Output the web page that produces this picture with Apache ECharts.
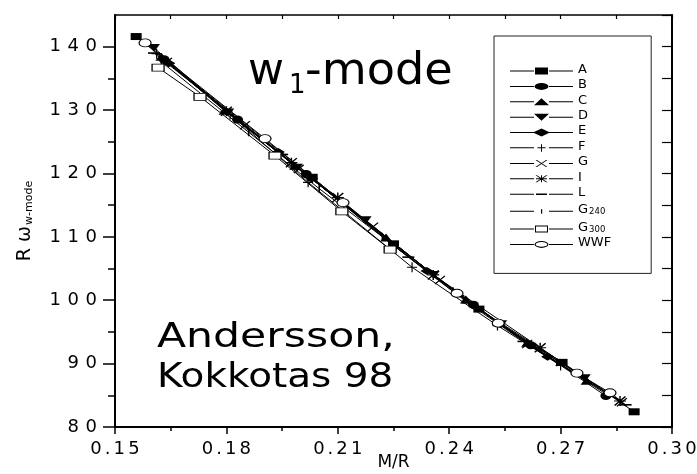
<!DOCTYPE html>
<html>
<head>
<meta charset="utf-8">
<script src="https://cdn.jsdelivr.net/npm/echarts@6.0.0/dist/echarts.min.js"></script>
<style>
  html, body { margin: 0; padding: 0; background: #fff; }
  #chart { width: 697px; height: 474px; }
</style>
</head>
<body>
<div id="chart"></div>
<script>
// ---------------- data (M/R, R*omega) ----------------
const seriesNames = ['A', 'B', 'C', 'D', 'E', 'F', 'G', 'I', 'L', 'G240', 'G300', 'WWF'];

const dataA = [[0.1557, 141.6], [0.2031, 119.4], [0.2250, 108.9], [0.2480, 98.6], [0.2704, 90.2], [0.2898, 82.4]];
const dataB = [[0.1632, 138.0], [0.1830, 128.5], [0.2015, 119.9], [0.2250, 108.6], [0.2465, 99.3], [0.2620, 92.9], [0.2822, 84.9]];
const dataC = [[0.1625, 138.4], [0.1795, 129.9], [0.1985, 121.2], [0.2230, 109.9], [0.2445, 100.1], [0.2610, 93.3], [0.2770, 87.3]];
const dataD = [[0.1605, 139.8], [0.1805, 129.6], [0.1990, 120.9], [0.2175, 112.6], [0.2358, 104.0], [0.2540, 96.2], [0.2765, 87.7]];
const dataE = [[0.1645, 137.4], [0.1940, 123.4], [0.2030, 119.2], [0.2340, 104.6], [0.2535, 96.3], [0.2665, 91.1], [0.2825, 85.1]];
const dataF = [[0.1612, 138.9], [0.1810, 129.3], [0.2020, 118.6], [0.2300, 105.2], [0.2530, 96.0], [0.2700, 89.7]];
const dataG = [[0.1640, 137.6], [0.1850, 127.6], [0.1995, 120.7], [0.2195, 111.6], [0.2375, 103.2], [0.2610, 93.1], [0.2865, 83.9]];
const dataI = [[0.1800, 129.8], [0.1975, 121.7], [0.2100, 116.2], [0.2357, 104.0], [0.2645, 92.5], [0.2860, 84.1]];
const dataL = [[0.1605, 139.0], [0.1950, 123.0], [0.2290, 106.8], [0.2450, 99.6], [0.2600, 93.5], [0.2875, 83.5]];
const dataG240 = [[0.1625, 137.6], [0.1860, 126.5], [0.2050, 117.6], [0.2220, 110.0], [0.2410, 101.4], [0.2690, 90.2]];
const dataG300 = [[0.1616, 136.7], [0.1729, 132.1], [0.1931, 122.8], [0.2111, 114.0], [0.2241, 108.0]];
const dataWWF = [[0.1581, 140.6], [0.1904, 125.5], [0.2114, 115.4], [0.2421, 101.1], [0.2532, 96.4], [0.2744, 88.5], [0.2833, 85.4]];

const yTickValues = [80, 90, 100, 110, 120, 130, 140];
const yMinorTickValues = [85, 95, 105, 115, 125, 135];
const xTickLabels = ['0.15', '0.18', '0.21', '0.24', '0.27', '0.30'];

const allData = [dataA, dataB, dataC, dataD, dataE, dataF, dataG, dataI, dataL, dataG240, dataG300, dataWWF];

// ---------------- styling ----------------
const FONT = 'DejaVu Sans';
const INK = '#000';

const plusPath = 'path://M4.4,0h1.2v4.4h4.4v1.2h-4.4v4.4h-1.2v-4.4h-4.4v-1.2h4.4z';
const crossPath = 'path://M0,0.9L0.9,0L10,9.1L9.1,10z M9.1,0L10,0.9L0.9,10L0,9.1z';
const starPath = 'path://M4.4,0h1.2v4.4h4.4v1.2h-4.4v4.4h-1.2v-4.4h-4.4v-1.2h4.4z M0,0.9L0.9,0L10,9.1L9.1,10z M9.1,0L10,0.9L0.9,10L0,9.1z';
const dashPath = 'path://M0,0h10v2h-10z';
const barPath = 'path://M0,0h2v10h-2z';
const triDownPath = 'path://M0,0L10,0L5,10z';

const symbolCfg = {
  A: { symbol: 'rect', size: [11, 7], fill: INK },
  B: { symbol: 'circle', size: [11, 8], fill: INK },
  C: { symbol: 'triangle', size: [12, 8], fill: INK },
  D: { symbol: triDownPath, size: [12, 8], fill: INK },
  E: { symbol: 'diamond', size: [13, 8], fill: INK },
  F: { symbol: plusPath, size: [10, 10], fill: INK },
  G: { symbol: crossPath, size: [11, 9], fill: INK },
  I: { symbol: starPath, size: [12, 10], fill: INK },
  L: { symbol: dashPath, size: [12, 1.6], fill: INK },
  G240: { symbol: barPath, size: [1.6, 8], fill: INK },
  G300: { symbol: 'rect', size: [12, 7], fill: '#fff', border: 1 },
  WWF: { symbol: 'circle', size: [12, 8], fill: '#fff', border: 1 }
};

// legend icons: 63 x 10 box, line with symbol in the middle
const LL = 'M0,4.5h24v1h-24z M39,4.5h24v1h-24z';
const legendIcons = {
  A: 'path://' + LL + ' M25,1.5h13v7h-13z',
  B: 'path://' + LL + ' M24.5,5a7,3.5 0 1,1 14,0a7,3.5 0 1,1 -14,0z',
  C: 'path://' + LL + ' M31.5,1.5L39,8.5L24,8.5z',
  D: 'path://' + LL + ' M24,1.5L39,1.5L31.5,8.5z',
  E: 'path://' + LL + ' M31.5,1L40,5L31.5,9L23,5z',
  F: 'path://' + LL + ' M31,1.5h1v3h3.5v1h-3.5v3.5h-1v-3.5h-3.5v-1h3.5z',
  G: 'path://' + LL + ' M25.5,1.5L27,1.5L37.5,8.5L36,8.5z M36,1.5L37.5,1.5L27,8.5L25.5,8.5z',
  I: 'path://' + LL + ' M25.5,1.5L27,1.5L37.5,8.5L36,8.5z M36,1.5L37.5,1.5L27,8.5L25.5,8.5z M31,1.5h1v3h5v1h-5v3h-1v-3h-5v-1h5z',
  L: 'path://' + LL + ' M26,4.2h11v1.6h-11z',
  G240: 'path://' + LL + ' M31,3h1.2v4.5h-1.2z',
  G300: 'path://' + LL + ' M25,1.5h13v7h-13z M26,2.5v5h11v-5z',
  WWF: 'path://' + LL + ' M24.5,5a7,3.5 0 1,1 14,0a7,3.5 0 1,1 -14,0z M25.7,5a5.8,2.4 0 1,0 11.6,0a5.8,2.4 0 1,0 -11.6,0z'
};

// wide-spaced tick labels (each character its own rich token with padding)
function spaced(str) {
  return str.split('').map(c => (c === '.' ? '{p|.}' : '{d|' + c + '}')).join('');
}

const series = seriesNames.map((name, i) => {
  const cfg = symbolCfg[name];
  return {
    name: name,
    type: 'line',
    data: allData[i],
    xAxisIndex: 0,
    yAxisIndex: 0,
    symbol: cfg.symbol,
    symbolSize: cfg.size,
    showSymbol: true,
    showAllSymbol: true,
    smooth: false,
    lineStyle: { color: INK, width: 1 },
    itemStyle: {
      color: cfg.fill,
      borderColor: INK,
      borderWidth: cfg.border || 0
    },
    emphasis: { disabled: true },
    z: 2 + i * 0.01
  };
});

const chart = echarts.init(document.getElementById('chart'), null, { renderer: 'canvas' });

const option = {
  animation: false,
  backgroundColor: '#fff',
  grid: { left: 115, right: 25, top: 15, bottom: 47, containLabel: false, outerBoundsMode: 'none' },
  xAxis: [
    {
      type: 'value', position: 'bottom',
      min: 0.15, max: 0.30, interval: 0.03,
      name: 'M/R', nameLocation: 'middle', nameGap: 27, nameMoveOverlap: false,
      nameTextStyle: { fontFamily: FONT, fontSize: 17, color: INK },
      axisLine: { show: true, onZero: false, lineStyle: { color: INK, width: 2 } },
      axisTick: { show: true, inside: false, length: 7, lineStyle: { color: INK, width: 1.5 } },
      minorTick: { show: true, splitNumber: 2, length: 4, lineStyle: { color: INK, width: 1.5 } },
      splitLine: { show: false },
      minorSplitLine: { show: false },
      axisLabel: {
        show: true, margin: 13, color: INK,
        formatter: v => spaced(xTickLabels[Math.round((v - 0.15) / 0.03)] || v.toFixed(2)),
        rich: {
          d: { fontFamily: FONT, fontSize: 18, color: INK, padding: [0, 1.6, 0, 1.6] },
          p: { fontFamily: FONT, fontSize: 18, color: INK, padding: [0, 1.4, 0, 1.4] }
        }
      }
    },
    {
      type: 'value', position: 'top',
      min: 0.15, max: 0.30, interval: 0.015,
      axisLine: { show: true, onZero: false, lineStyle: { color: INK, width: 1.5 } },
      axisTick: { show: true, inside: true, length: 4, lineStyle: { color: INK, width: 1.2 } },
      axisLabel: { show: false },
      splitLine: { show: false }
    }
  ],
  yAxis: [
    {
      type: 'value', position: 'left',
      min: 80, max: 145, interval: 10,
      name: '{r|R ω}{s|w-mode}', nameLocation: 'middle', nameGap: 80, nameMoveOverlap: false,
      nameTextStyle: {
        color: INK,
        rich: {
          r: { fontFamily: FONT, fontSize: 19, color: INK, lineHeight: 24, verticalAlign: 'bottom' },
          s: { fontFamily: FONT, fontSize: 11, color: INK, lineHeight: 24, verticalAlign: 'bottom', padding: [12, 0, 0, 1] }
        }
      },
      axisLine: { show: true, onZero: false, lineStyle: { color: INK, width: 2 } },
      axisTick: { show: true, inside: false, length: 12, customValues: yTickValues, lineStyle: { color: INK, width: 1.5 } },
      splitLine: { show: false },
      axisLabel: {
        show: true, margin: 14.7, color: INK,
        customValues: yTickValues,
        formatter: v => spaced(String(v)),
        rich: {
          d: { fontFamily: FONT, fontSize: 18, color: INK, padding: [0, 3.3, 0, 3.3] },
          p: { fontFamily: FONT, fontSize: 18, color: INK, padding: [0, 1.2, 0, 1.2] }
        }
      }
    },
    {
      type: 'value', position: 'right',
      min: 80, max: 145, interval: 5,
      axisLine: { show: true, onZero: false, lineStyle: { color: INK, width: 2 } },
      axisTick: { show: true, inside: true, length: 10, lineStyle: { color: INK, width: 1.2 } },
      axisLabel: { show: false },
      splitLine: { show: false }
    },
    {
      type: 'value', position: 'left',
      min: 80, max: 145, interval: 5,
      axisLine: { show: false },
      axisTick: { show: true, inside: false, length: 7, customValues: yMinorTickValues, lineStyle: { color: INK, width: 1.5 } },
      axisLabel: { show: false },
      splitLine: { show: false }
    }
  ],
  legend: {
    orient: 'vertical',
    left: 494, top: 36,
    padding: [27, 40, 24, 16],
    itemWidth: 63, itemHeight: 10, itemGap: 2.4,
    borderColor: '#222', borderWidth: 1,
    backgroundColor: '#fff',
    selectedMode: false,
    symbolKeepAspect: true,
    itemStyle: { color: INK, borderWidth: 0 },
    data: seriesNames.map(n => ({ name: n, icon: legendIcons[n] })),
    formatter: function (name) {
      const m = name.match(/^G(\d+)$/);
      if (m) return '{n|G}{s|' + m[1] + '}';
      return '{n|' + name + '}';
    },
    textStyle: {
      color: INK, fontFamily: FONT, fontSize: 13, lineHeight: 10,
      rich: {
        n: { fontFamily: FONT, fontSize: 13, color: INK, lineHeight: 10, verticalAlign: 'bottom' },
        s: { fontFamily: FONT, fontSize: 8.5, color: INK, lineHeight: 10, verticalAlign: 'bottom', padding: [6, 0, 0, 1] }
      }
    }
  },
  graphic: [
    { type: 'text', x: 248, y: 73, style: { text: 'w', x: 0, y: 0, font: '44px "DejaVu Sans"', fill: INK, textVerticalAlign: 'middle' } },
    { type: 'text', x: 289, y: 86, style: { text: '1', x: 0, y: 0, font: '26px "DejaVu Sans"', fill: INK, textVerticalAlign: 'middle' } },
    { type: 'text', x: 305, y: 73, scaleX: 1.05, style: { text: '-mode', x: 0, y: 0, font: '44px "DejaVu Sans"', fill: INK, textVerticalAlign: 'middle' } },
    { type: 'text', x: 157, y: 338, scaleX: 1.29, style: { text: 'Andersson,', x: 0, y: 0, font: '33px "DejaVu Sans"', fill: INK, textVerticalAlign: 'middle' } },
    { type: 'text', x: 157, y: 378, scaleX: 1.18, style: { text: 'Kokkotas 98', x: 0, y: 0, font: '33px "DejaVu Sans"', fill: INK, textVerticalAlign: 'middle' } }
  ],
  series: series
};

chart.setOption(option);
</script>
</body>
</html>
